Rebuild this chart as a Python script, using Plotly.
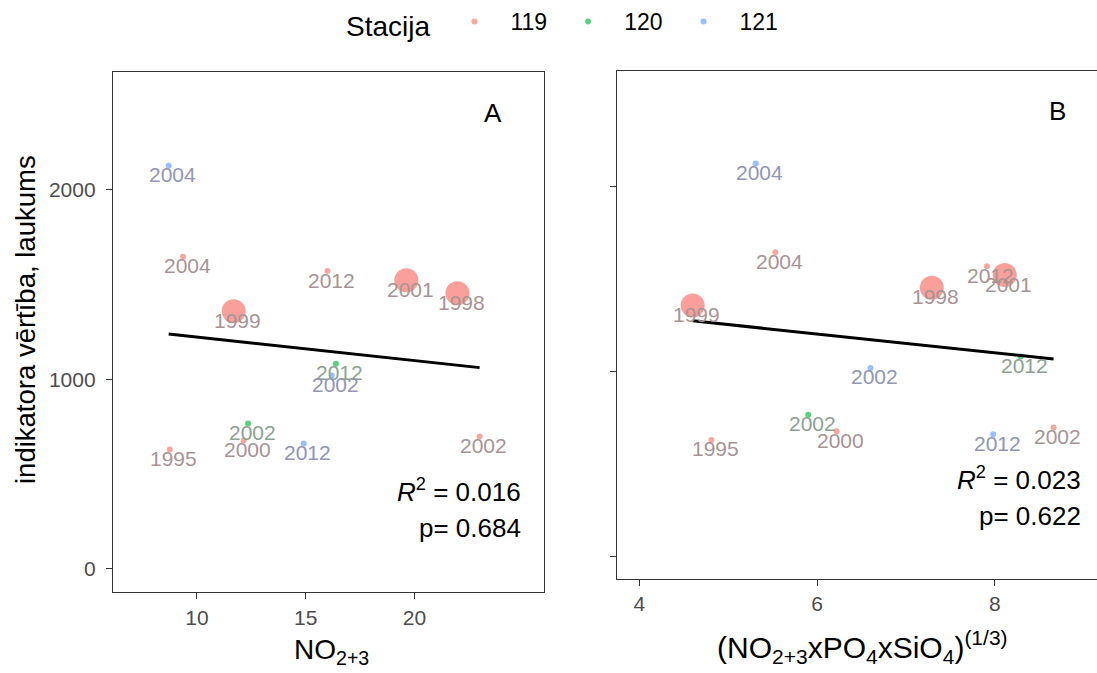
import plotly.graph_objects as go

# ---------------- data ----------------
years    = ["2004", "2004", "1999", "2012", "2001", "1998", "2012", "2002", "2002", "2000", "1995", "2012", "2002"]
station  = ["121", "119", "119", "119", "119", "119", "120", "121", "120", "119", "119", "121", "119"]
indikators = [2125, 1645, 1358, 1570, 1522, 1453, 1082, 1020, 767, 677, 630, 661, 698]
no23     = [8.70, 9.36, 11.69, 16.00, 19.63, 21.98, 16.39, 16.20, 12.35, 12.15, 8.75, 14.91, 23.00]
nps_cub  = [5.31, 5.53, 4.60, 7.91, 8.11, 7.29, 8.29, 6.60, 5.90, 6.22, 4.81, 7.98, 8.66]
large    = [False, False, True, False, True, True, False, False, False, False, False, False, False]

stations = ["119", "120", "121"]
fit_intercept = {"A": 1346.5, "B": 1508.5}
fit_slope     = {"A": -12.41, "B": -50.86}
r2_vals = {"A": "0.016", "B": "0.023"}
p_vals  = {"A": "0.684", "B": "0.622"}

# ---------------- styling ----------------
W, H = 1097, 673
FONT = "Liberation Sans, Arial, sans-serif"
col = {"119": (248, 118, 109), "120": (0, 186, 56), "121": (97, 156, 255)}
lab_col = {"119": "rgb(168,148,148)", "120": "rgb(140,162,146)", "121": "rgb(145,150,178)"}

def rgba(c, a):
    return f"rgba({c[0]},{c[1]},{c[2]},{a})"

panels = {
    "A": dict(x=no23, xa="x", ya="y"),
    "B": dict(x=nps_cub, xa="x2", ya="y2"),
}

fig = go.Figure()
annotations = []

for pname, P in panels.items():
    xs = P["x"]
    # small points per station
    for st in stations:
        idx = [i for i in range(len(years)) if station[i] == st and not large[i]]
        fig.add_trace(go.Scatter(
            x=[xs[i] for i in idx], y=[indikators[i] for i in idx],
            mode="markers", name=st, legendgroup=st,
            showlegend=(pname == "A"),
            marker=dict(size=6, color=rgba(col[st], 0.65), line=dict(width=0)),
            xaxis=P["xa"], yaxis=P["ya"], hoverinfo="skip"))
    # large points per station
    for st in stations:
        idx = [i for i in range(len(years)) if station[i] == st and large[i]]
        if not idx:
            continue
        fig.add_trace(go.Scatter(
            x=[xs[i] for i in idx], y=[indikators[i] for i in idx],
            mode="markers", name=st, legendgroup=st, showlegend=False,
            marker=dict(size=24, color=rgba(col[st], 0.7), line=dict(width=0)),
            xaxis=P["xa"], yaxis=P["ya"], hoverinfo="skip"))
    # regression line over data x-extent
    x0, x1 = min(xs), max(xs)
    fig.add_trace(go.Scatter(
        x=[x0, x1],
        y=[fit_intercept[pname] + fit_slope[pname] * x0, fit_intercept[pname] + fit_slope[pname] * x1],
        mode="lines", line=dict(color="black", width=3), showlegend=False,
        xaxis=P["xa"], yaxis=P["ya"], hoverinfo="skip"))
    # year labels
    for i in range(len(years)):
        annotations.append(dict(
            x=xs[i], y=indikators[i], xref=P["xa"], yref=P["ya"], text=years[i],
            showarrow=False, xanchor="center", yanchor="middle", xshift=4, yshift=-9,
            font=dict(family=FONT, size=21, color=lab_col[station[i]])))

# panel letters
annotations.append(dict(x=0.8817, y=0.921, xref="x domain", yref="y domain", text="A", showarrow=False,
                        xanchor="center", yanchor="middle", font=dict(family=FONT, size=26, color="black")))
annotations.append(dict(x=0.9167, y=0.921, xref="x2 domain", yref="y2 domain", text="B", showarrow=False,
                        xanchor="center", yanchor="middle", font=dict(family=FONT, size=26, color="black")))

# R2 / p labels
stat_pos = {"A": (523 / W, 1 - 490 / H, 1 - 528 / H), "B": (1083 / W, 1 - 478 / H, 1 - 516 / H)}
for pname in ["A", "B"]:
    xr, yr, yp = stat_pos[pname]
    annotations.append(dict(x=xr, y=yr, xref="paper", yref="paper",
                            text=f"<i>R</i><sup>2</sup> = {r2_vals[pname]}", showarrow=False,
                            xanchor="right", yanchor="middle", font=dict(family=FONT, size=26, color="black")))
    annotations.append(dict(x=xr, y=yp, xref="paper", yref="paper",
                            text=f"p= {p_vals[pname]}", showarrow=False,
                            xanchor="right", yanchor="middle", font=dict(family=FONT, size=26, color="black")))

# axis titles
annotations.append(dict(x=25 / W, y=1 - 320 / H, xref="paper", yref="paper",
                        text="indikatora vērtība, laukums", textangle=-90, showarrow=False,
                        xanchor="center", yanchor="middle", font=dict(family=FONT, size=27.5, color="black")))
annotations.append(dict(x=332 / W, y=1 - 651 / H, xref="paper", yref="paper",
                        text="NO<sub>2+3</sub>", showarrow=False,
                        xanchor="center", yanchor="middle", font=dict(family=FONT, size=28, color="black")))
annotations.append(dict(x=862 / W, y=1 - 647 / H, xref="paper", yref="paper",
                        text="(NO<sub>2+3</sub>xPO<sub>4</sub>xSiO<sub>4</sub>)<sup>(1/3)</sup>", showarrow=False,
                        xanchor="center", yanchor="middle", font=dict(family=FONT, size=30, color="black")))

axis_common = dict(showgrid=False, zeroline=False, showline=True, linecolor="#333333", linewidth=1.3,
                   ticks="outside", ticklen=6, tickcolor="#333333", tickwidth=1.3,
                   tickfont=dict(family=FONT, size=21, color="#4D4D4D"))

fig.update_layout(
    width=W, height=H,
    margin=dict(l=0, r=0, t=0, b=0),
    paper_bgcolor="white", plot_bgcolor="white",
    font=dict(family=FONT),
    xaxis=dict(domain=[113 / W, 544 / W], range=[6.14, 25.96], tickvals=[10, 15, 20],
               mirror=True, anchor="y", **axis_common),
    yaxis=dict(domain=[(H - 592.3) / H, (H - 72) / H], range=[-123, 2619], tickvals=[0, 1000, 2000],
               mirror=True, anchor="x", ticklabelstandoff=6, **axis_common),
    xaxis2=dict(domain=[617 / W, 1.0], range=[3.749, 9.148], tickvals=[4, 6, 8],
                mirror=True, anchor="y2", **axis_common),
    yaxis2=dict(domain=[(H - 579) / H, (H - 71) / H], range=[-122, 2626], tickvals=[0, 1000, 2000],
                showticklabels=False, mirror=False, anchor="x2", **axis_common),
    legend=dict(orientation="h", x=344 / W, y=1.0, xanchor="left", yanchor="top",
                title=dict(text="Stacija", side="left", font=dict(family=FONT, size=28, color="black")),
                font=dict(family=FONT, size=23, color="black"), itemwidth=62,
                bgcolor="rgba(0,0,0,0)"),
    annotations=annotations,
)

fig.write_html("out.html")
